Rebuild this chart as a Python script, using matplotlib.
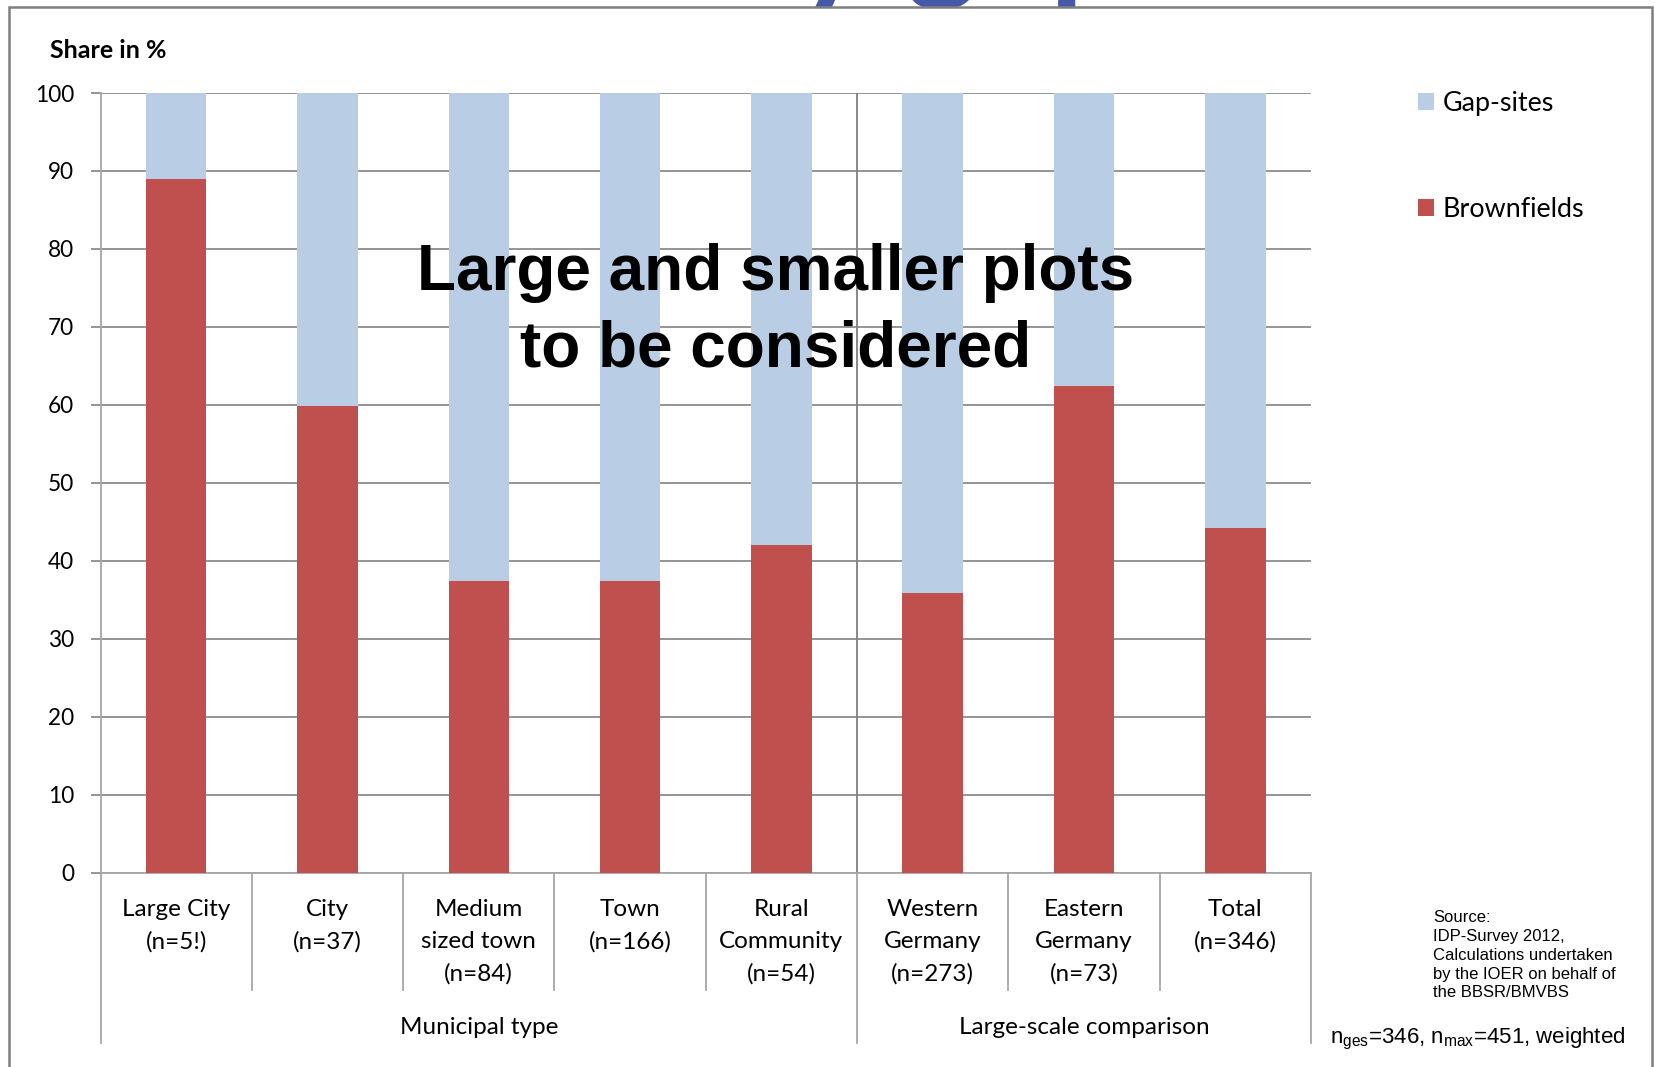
import numpy as np
import matplotlib.pyplot as plt
import matplotlib.transforms as mtransforms
from matplotlib.patches import Rectangle
from matplotlib.lines import Line2D

plt.rcParams['font.family'] = ['Lato', 'DejaVu Sans']
plt.rcParams['mathtext.fontset'] = 'custom'
plt.rcParams['mathtext.rm'] = 'Liberation Sans'

# shares in % per municipal type / region
categories = ['Large City\n(n=5!)', 'City\n(n=37)', 'Medium\nsized town\n(n=84)', 'Town\n(n=166)',
              'Rural\nCommunity\n(n=54)', 'Western\nGermany\n(n=273)', 'Eastern\nGermany\n(n=73)',
              'Total\n(n=346)']
brownfields = [89.0, 59.9, 37.4, 37.4, 42.0, 35.9, 62.4, 44.2]
gap_sites = [11.0, 40.1, 62.6, 62.6, 58.0, 64.1, 37.6, 55.8]
groups = ['Municipal type', 'Large-scale comparison']
group_spans = [(0, 4), (5, 7)]
yticks = [0, 10, 20, 30, 40, 50, 60, 70, 80, 90, 100]

W, H = 1655, 1067
def fx(px):
    return px / W
def fy(py):
    return 1 - py / H

fig = plt.figure(figsize=(W / 100, H / 100), dpi=100)

# slide title, mostly hidden behind the chart frame
fig.text(fx(-60), fy(-15), 'Brownfields by gap-sites', color='#4659A8', fontsize=100,
         fontweight='bold', va='baseline', zorder=-2)
# chart frame
fig.add_artist(Rectangle((fx(9), fy(1100)), fx(1652) - fx(9), fy(7) - fy(1100),
                         transform=fig.transFigure, facecolor='white', edgecolor='#7f7f7f',
                         lw=1.8, zorder=-1))

ax = fig.add_axes([fx(100.5), fy(872.7), fx(1311) - fx(100.5), fy(93) - fy(872.7)])
x = np.arange(len(categories))
b1 = ax.bar(x, brownfields, 0.4, color='#C0504D', label='Brownfields', zorder=3)
b2 = ax.bar(x, gap_sites, 0.4, bottom=brownfields, color='#B9CDE5', label='Gap-sites', zorder=3)

ax.set_xlim(-0.5, len(categories) - 0.5)
ax.set_ylim(0, 100)
ax.set_yticks(yticks)
ax.yaxis.grid(True, color='#8c8c8c', lw=1.3)
ax.set_axisbelow(True)
for s in ['top', 'right', 'left']:
    ax.spines[s].set_visible(False)
ax.spines['bottom'].set_color('#a6a6a6')
ax.spines['bottom'].set_linewidth(1.3)
ax.tick_params(axis='y', length=7, color='#8c8c8c', width=1.3, labelsize=16.3, pad=12)
ax.set_xticks([])

blend = mtransforms.blended_transform_factory(ax.transData, fig.transFigure)

# category labels and the lines between them
for i, lab in enumerate(categories):
    ax.text(i, fy(899), lab, transform=blend, ha='center', va='top', fontsize=17.5,
            linespacing=1.63)
for b in np.arange(-0.5, len(categories), 1.0):
    long_line = b in (-0.5, 4.5, len(categories) - 0.5)
    y_end = 1043 if long_line else 990
    top = 93 if b == -0.5 else 872.7
    fig.add_artist(Line2D([b, b], [fy(top), fy(y_end)], transform=blend,
                          color='#a6a6a6', lw=1.3, clip_on=False))
# divider between the two groups inside the plot
ax.axvline(4.5, color='#7f7f7f', lw=1.3, zorder=4)

for name, (a, b) in zip(groups, group_spans):
    ax.text((a + b) / 2, fy(1027), name, transform=blend, ha='center', va='center', fontsize=17.5)

fig.legend([b2, b1], ['Gap-sites', 'Brownfields'], loc='upper left',
           bbox_to_anchor=(fx(1418), fy(91)), frameon=False, fontsize=19.4,
           handlelength=0.6, handleheight=0.6, handletextpad=0.3, labelspacing=3.0,
           borderpad=0, borderaxespad=0)

fig.text(fx(50), fy(50), 'Share in %', fontsize=18, fontweight='bold', va='center')
fig.text(fx(776), fy(311), 'Large and smaller plots\nto be considered', ha='center', va='center',
         fontsize=46, fontweight='bold', family='Liberation Sans', linespacing=1.35, zorder=5)
fig.text(fx(1433), fy(910), 'Source:\nIDP-Survey 2012,\nCalculations undertaken\nby the IOER on behalf of\nthe BBSR/BMVBS',
         family='Liberation Sans', fontsize=12, va='top', linespacing=1.32)
fig.text(fx(1330), fy(1039), r'n$_{\mathrm{ges}}$=346, n$_{\mathrm{max}}$=451, weighted',
         family='Liberation Sans', fontsize=16, va='center')

fig.savefig('out.png', dpi=100)
